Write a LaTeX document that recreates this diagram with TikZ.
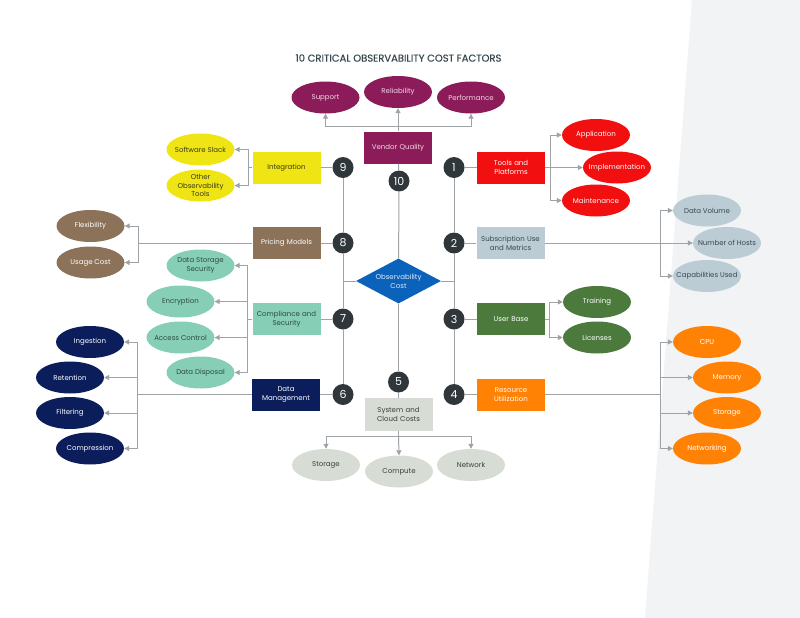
\documentclass[tikz,border=0pt]{standalone}
\usepackage{fontspec}
\setmainfont{Poppins}
\newfontfamily\titlefont[FakeBold=0.4]{Poppins}
\usetikzlibrary{shapes.geometric,arrows.meta}
\definecolor{bggrey}{HTML}{F1F3F4}
\definecolor{titlec}{HTML}{37474F}
\definecolor{lnc}{HTML}{9EA3A8}
\definecolor{numc}{HTML}{30373B}
\definecolor{magc}{HTML}{8C1B5A}
\definecolor{magt}{HTML}{F5D7E6}
\definecolor{yelc}{HTML}{EFE515}
\definecolor{yelt}{HTML}{3A3A1A}
\definecolor{brnc}{HTML}{8B7258}
\definecolor{tealc}{HTML}{86CFB6}
\definecolor{tealt}{HTML}{2E4A40}
\definecolor{navyc}{HTML}{0B1E5B}
\definecolor{redc}{HTML}{F20F10}
\definecolor{bgc}{HTML}{BCCCD5}
\definecolor{bgt}{HTML}{37474F}
\definecolor{grnc}{HTML}{4B7A3C}
\definecolor{orgc}{HTML}{FF8205}
\definecolor{sysc}{HTML}{D7DDD5}
\definecolor{syst}{HTML}{37403A}
\definecolor{diac}{HTML}{0B62BA}
\definecolor{diat}{HTML}{DCEBFA}
\begin{document}
\begin{tikzpicture}[x=1pt,y=-1pt,
  font=\fontsize{7}{9.2}\selectfont,
  box/.style={rectangle, minimum width=68pt, minimum height=32pt, inner sep=1pt, align=center, text width=66pt},
  ell/.style={ellipse, minimum width=68pt, minimum height=32pt, inner xsep=-10pt, inner ysep=-6pt, align=center},
  num/.style={circle, fill=numc, minimum size=21pt, inner sep=0pt, text=white, font=\fontsize{11}{12}\selectfont},
  ln/.style={draw=lnc, line width=1pt},
  arr/.style={ln, -{Triangle[length=5pt,width=5pt]}},
  mag/.style={fill=magc, text=magt},
  yel/.style={fill=yelc, text=yelt},
  brn/.style={fill=brnc, text=white},
  teal/.style={fill=tealc, text=tealt},
  navy/.style={fill=navyc, text=white},
  red/.style={fill=redc, text=white},
  blg/.style={fill=bgc, text=bgt},
  grn/.style={fill=grnc, text=white},
  org/.style={fill=orgc, text=white},
  sysg/.style={fill=sysc, text=syst}
]
\useasboundingbox (0,0) rectangle (800,618);
\fill[white] (0,0) rectangle (800,618);
\fill[bggrey] (692,0) -- (800,0) -- (800,618) -- (645,618) -- cycle;

% title
\node[text=titlec, font=\titlefont\fontsize{10}{12}\selectfont] (title) at (398.5,58) {10 CRITICAL OBSERVABILITY COST FACTORS};

% center
\node[box, mag] (vq) at (398,147.5) {Vendor Quality};
\node[diamond, fill=diac, text=diat, minimum width=85pt, minimum height=45pt, inner sep=0pt, shape aspect=1.9, align=center] (oc) at (398.5,281) {Observability\\Cost};
\node[box, sysg, minimum height=33pt] (sys) at (398.5,414.5) {System and\\Cloud Costs};

% numbers
\node[num] (n9) at (343,167.5) {9};
\node[num] (n1) at (454,167.5) {1};
\node[num] (n10) at (399,181) {10};
\node[num] (n8) at (343,243) {8};
\node[num] (n2) at (454,243) {2};
\node[num] (n7) at (343,319) {7};
\node[num] (n3) at (454,319) {3};
\node[num] (n5) at (398.5,382) {5};
\node[num] (n6) at (343,394.5) {6};
\node[num] (n4) at (454,394.5) {4};

% left boxes
\node[box, yel] (integ) at (286.5,167.5) {Integration};
\node[box, brn] (pm) at (286.5,243) {Pricing Models};
\node[box, teal] (cs) at (286.5,319) {Compliance and\\Security};
\node[box, navy] (dm) at (286,394.5) {Data\\Management};

% right boxes
\node[box, red] (tp) at (511,167.5) {Tools and\\Platforms};
\node[box, blg] (sub) at (510.5,243) {Subscription Use\\and Metrics};
\node[box, grn] (ub) at (511,319) {User Base};
\node[box, org] (ru) at (511,394.5) {Resource\\Utilization};

% ellipses top
\node[ell, mag] (sup) at (325.5,97.5) {Support};
\node[ell, mag] (rel) at (398,92) {Reliability};
\node[ell, mag] (perf) at (471,97.5) {Performance};

% ellipses left
\node[ell, yel] (ss) at (200.5,149.5) {Software Slack};
\node[ell, yel, font=\fontsize{7}{8.6}\selectfont] (oot) at (200.5,185.5) {Other\\Observability\\Tools};
\node[ell, brn] (flex) at (90.5,226) {Flexibility};
\node[ell, brn] (uc) at (90.5,262.5) {Usage Cost};
\node[ell, teal] (dss) at (200.5,265.5) {Data Storage\\Security};
\node[ell, teal] (enc) at (180.5,301.5) {Encryption};
\node[ell, teal] (ac) at (180.5,337.5) {Access Control};
\node[ell, teal] (dd) at (200.5,372.5) {Data Disposal};
\node[ell, navy] (ing) at (90,342) {Ingestion};
\node[ell, navy] (ret) at (70,377.5) {Retention};
\node[ell, navy] (fil) at (70,413) {Filtering};
\node[ell, navy] (comp) at (90,448.5) {Compression};

% ellipses right
\node[ell, red] (app) at (596,135) {Application};
\node[ell, red] (impl) at (617,167.5) {Implementation};
\node[ell, red] (maint) at (596,200.5) {Maintenance};
\node[ell, blg] (dv) at (707,210.5) {Data Volume};
\node[ell, blg] (noh) at (727,243) {Number of Hosts};
\node[ell, blg] (cu) at (707,276) {Capabilities Used};
\node[ell, grn] (tr) at (597,302) {Training};
\node[ell, grn] (lic) at (597,337.5) {Licenses};
\node[ell, org] (cpu) at (707,342) {CPU};
\node[ell, org] (mem) at (727,377.5) {Memory};
\node[ell, org] (sto) at (727,413) {Storage};
\node[ell, org] (net) at (707,448.5) {Networking};

% ellipses bottom
\node[ell, sysg] (st) at (326,465) {Storage};
\node[ell, sysg] (cmp) at (399,471.5) {Compute};
\node[ell, sysg] (nw) at (471,465) {Network};

% spines
\draw[ln] (n9) -- (n8) -- (n7) -- (n6);
\draw[ln] (n1) -- (n2) -- (n3) -- (n4);
\draw[ln] (vq) -- (n10);
\draw[ln] (n10) -- (oc);
\draw[ln] (oc) -- (n5);
\draw[ln] (n5) -- (sys);
\draw[ln] (oc.west) -- (oc.west -| n8.center);
\draw[ln] (oc.east) -- (oc.east -| n2.center);

% boxes to numbers
\draw[ln] (integ) -- (n9);
\draw[ln] (pm) -- (n8);
\draw[ln] (cs) -- (n7);
\draw[ln] (dm) -- (n6);
\draw[ln] (tp) -- (n1);
\draw[ln] (sub) -- (n2);
\draw[ln] (ub) -- (n3);
\draw[ln] (ru) -- (n4);

% vendor quality
\coordinate (vqj) at (398,126);
\draw[ln] (vq.north) -- (vqj);
\draw[arr] (vqj) -- (rel.south);
\draw[arr] (vqj) -| (sup.south);
\draw[arr] (vqj) -| (perf.south);

% integration
\coordinate (ib) at (248,167.5);
\draw[ln] (integ.west) -- (ib);
\draw[arr] (ib) |- (ss.east);
\draw[arr] (ib) |- (oot.east);

% pricing
\coordinate (pb) at (138,243);
\draw[ln] (pm.west) -- (pb);
\draw[arr] (pb) |- (flex.east);
\draw[arr] (pb) |- (uc.east);

% compliance
\coordinate (csb) at (247,319);
\draw[ln] (cs.west) -- (csb);
\draw[arr] (csb) |- (dss.east);
\draw[arr] (csb) |- (enc.east);
\draw[arr] (csb) |- (ac.east);
\draw[arr] (csb) |- (dd.east);

% data management
\coordinate (dmb) at (137,394.5);
\draw[ln] (dm.west) -- (dmb);
\draw[arr] (dmb) |- (ing.east);
\draw[arr] (dmb) |- (ret.east);
\draw[arr] (dmb) |- (fil.east);
\draw[arr] (dmb) |- (comp.east);

% tools
\coordinate (tpb) at (550,167.5);
\draw[ln] (tp.east) -- (tpb);
\draw[arr] (tpb) |- (app.west);
\draw[arr] (tpb) -- (impl.west);
\draw[arr] (tpb) |- (maint.west);

% subscription
\coordinate (sb) at (660,243);
\draw[ln] (sub.east) -- (sb);
\draw[arr] (sb) |- (dv.west);
\draw[arr] (sb) -- (noh.west);
\draw[arr] (sb) |- (cu.west);

% user base
\coordinate (ubb) at (549,319);
\draw[ln] (ub.east) -- (ubb);
\draw[arr] (ubb) |- (tr.west);
\draw[arr] (ubb) |- (lic.west);

% resource
\coordinate (rb) at (660,394.5);
\draw[ln] (ru.east) -- (rb);
\draw[arr] (rb) |- (cpu.west);
\draw[arr] (rb) |- (mem.west);
\draw[arr] (rb) |- (sto.west);
\draw[arr] (rb) |- (net.west);

% system
\coordinate (sysb) at (398.5,436);
\draw[ln] (sys.south) -- (sysb);
\draw[arr] (sysb) -| (st.north);
\draw[arr] (sysb) -- (cmp.north);
\draw[arr] (sysb) -| (nw.north);
\end{tikzpicture}
\end{document}
